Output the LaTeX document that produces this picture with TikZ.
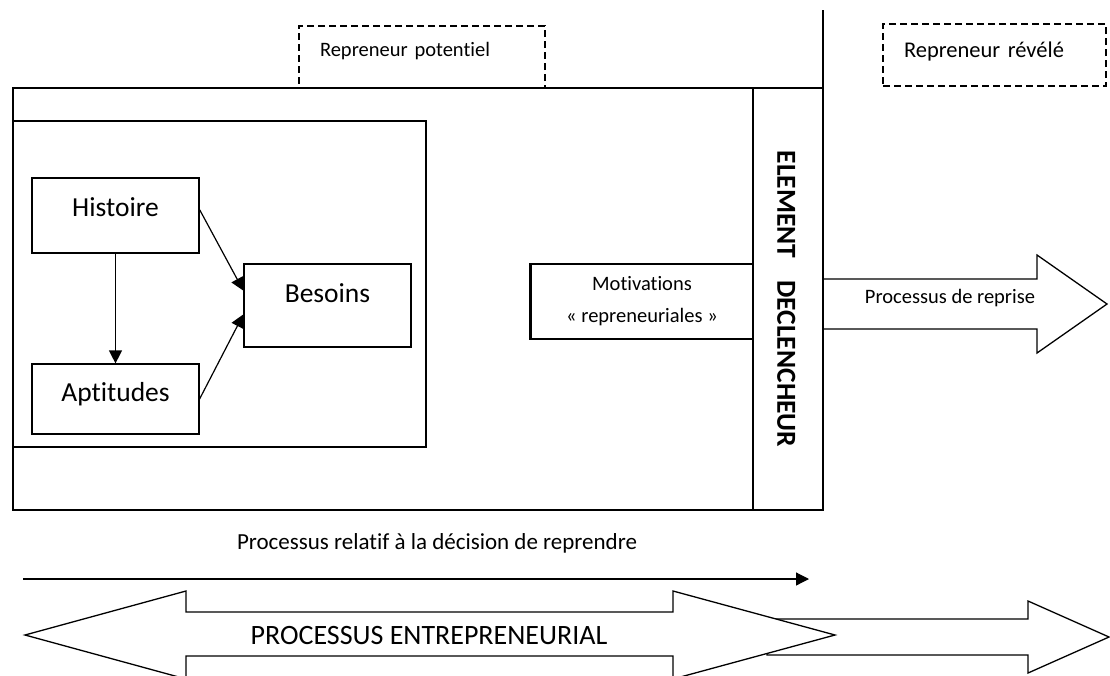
\documentclass[tikz,border=0pt]{standalone}
\usepackage{fontspec}
\setmainfont{Carlito}[Ligatures=NoCommon]
\usetikzlibrary{arrows.meta}

\begin{document}
\begin{tikzpicture}[x=1pt, y=-1pt, line width=1.2pt,
	bloc/.style={draw, rectangle, inner sep=0pt, font=\fontsize{27.5}{33}\selectfont, text height=17.7pt},
	repreneur/.style={draw, rectangle, dash pattern=on 7pt off 4pt, line width=1.6pt, inner xsep=21pt, inner ysep=0pt, align=left, minimum height=62pt},
	petit/.style={font=\fontsize{20.5}{32}\selectfont},
	fleche/.style={arrows={-Triangle[length=13pt, width=13pt]}},
	bloque/.style={draw, fill=white, line width=1.3pt}]
	\useasboundingbox (0,0) rectangle (1110,675);
	\node (potentiel) [repreneur, minimum width=246pt, text width=204pt, font=\fontsize{20.5}{25}\selectfont, text height=13.2pt, text depth=14pt] at (422,57) {Repreneur potentiel};
	\node (revele) [repreneur, minimum width=223pt, text width=181pt, font=\fontsize{22.5}{27}\selectfont, text height=14.5pt, text depth=10pt] at (994.5,55) {Repreneur révélé};
	\draw (13,88) rectangle (823,510);
	\draw [line width=2.4pt] (13,88) -- (13,510);
	\draw (13,121) rectangle (426,447);
	\node (hist) [bloc, minimum width=167pt, minimum height=75pt, text depth=15.6pt] at (115.5,215.5) {Histoire};
	\node (apt) [bloc, minimum width=167pt, minimum height=70pt, text depth=13pt] at (115.5,399) {Aptitudes};
	\node (bes) [bloc, minimum width=167pt, minimum height=83pt, text depth=23pt] at (327.5,305.5) {Besoins};
	\draw [fleche] (hist) -- (apt);
	\draw [fleche] (hist.4) -- (bes.170);
	\draw [fleche] (apt.east) -- (bes.186);
	\node (mot) [draw, petit, align=center, inner sep=0pt, minimum width=222pt, minimum height=75pt] at (642,301.5) {Motivations\\« repreneuriales »};
	\draw [line width=2.2pt] (mot.north west) -- (mot.south west);
	\node (decl) [draw, rotate=-90, inner sep=0pt, minimum width=422pt, minimum height=70pt, text height=21.5pt, font=\bfseries\fontsize{27.5}{33}\selectfont] at (788,299) {ELEMENT\hspace{22pt}DECLENCHEUR};
	\draw [bloque] (823,279) -- (1037,279) -- (1037,255) -- (1107,304) -- (1037,353) -- (1037,329) -- (823,329);
	\node (reprise) [petit] at (950,298) {Processus de reprise};
	\draw [line width=1.7pt] (823,10) -- (823,510);
	\node (relatif) [font=\fontsize{23}{28}\selectfont] at (437,543) {Processus relatif à la décision de reprendre};
	\coordinate (debut) at (23,579);
	\coordinate (fin) at (809,579);
	\draw [fleche] (debut) -- (fin);
	\draw [bloque] (767,619) -- (1028,619) -- (1028,601) -- (1109,637) -- (1028,673) -- (1028,655) -- (767,655) -- cycle;
	\draw [bloque] (25,635) -- (186,591) -- (186,612) -- (673,612) -- (673,591) -- (835,635) -- (673,679) -- (673,656) -- (186,656) -- (186,679) -- cycle;
	\node (entrepreneurial) [font=\fontsize{28}{33}\selectfont] at (429,635.5) {PROCESSUS ENTREPRENEURIAL};
\end{tikzpicture}
\end{document}
